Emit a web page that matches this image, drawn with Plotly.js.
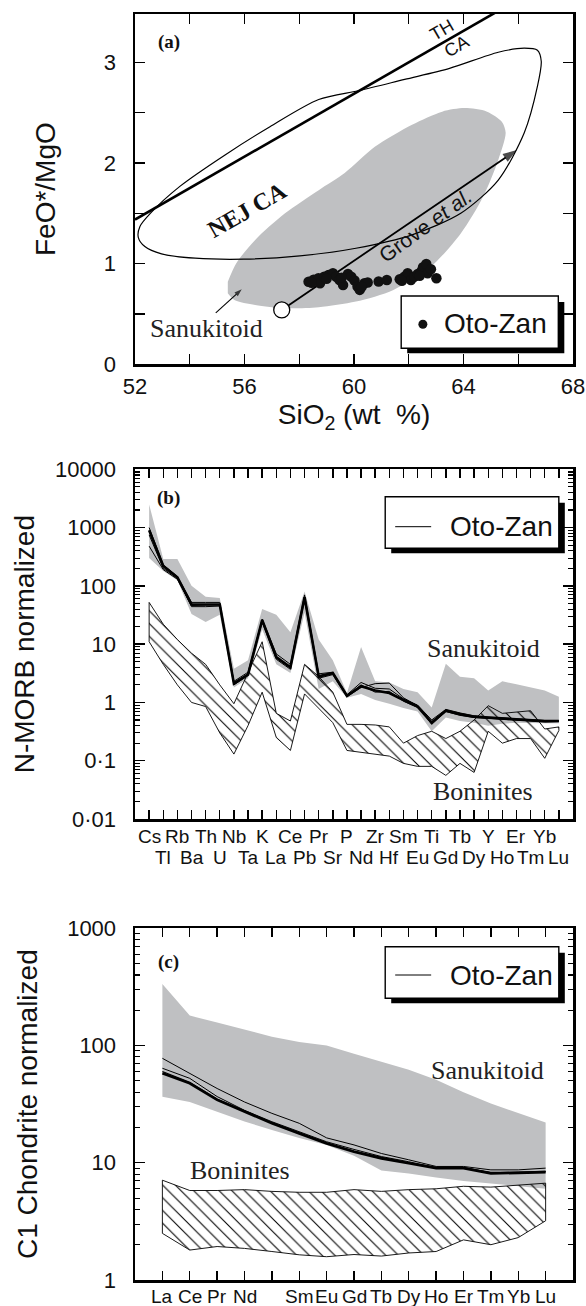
<!DOCTYPE html>
<html><head><meta charset="utf-8">
<script src="https://cdn.plot.ly/plotly-3.0.1.min.js"></script>
<style>html,body{margin:0;padding:0;background:#fff}#chart{width:586px;height:1306px}</style>
</head><body><div id="chart"></div>
<script>
// ---------- Panel (a) data ----------
const OTO_SIO2 = [58.34,58.52,58.70,58.76,58.91,59.07,59.23,59.35,59.47,59.60,59.78,59.90,60.02,60.13,60.21,60.38,60.50,60.90,61.20,61.67,61.84,61.96,62.08,62.20,62.33,62.45,62.52,62.64,62.69,62.81,63.01,58.45,59.0,59.55,60.28,61.75,62.4];
const OTO_FEMG = [0.82,0.84,0.855,0.805,0.87,0.888,0.904,0.87,0.838,0.788,0.898,0.87,0.832,0.772,0.739,0.805,0.812,0.822,0.838,0.845,0.87,0.904,0.838,0.87,0.898,0.921,0.964,0.997,0.904,0.944,0.855,0.81,0.85,0.86,0.77,0.83,0.88];
const NEJ_X = [52.12,52.36,52.97,54.2,55.98,58.02,60.07,62.12,63.9,65.27,66.22,66.7,66.84,66.7,66.22,65.27,63.49,61.85,60.21,58.71,56.93,55.29,53.65,52.56,52.18,52.12];
const NEJ_Y = [1.262,1.17,1.097,1.054,1.044,1.077,1.153,1.286,1.5,1.83,2.30,2.76,3.01,3.12,3.14,3.10,2.94,2.83,2.72,2.63,2.36,2.08,1.77,1.50,1.37,1.262];
const SAN_A_X = [55.39,55.63,56.39,57.48,58.71,60.07,61.44,62.81,63.9,64.72,65.27,65.54,65.4,64.86,64.04,63.22,62.12,60.76,59.66,58.71,57.48,56.39,55.7,55.39];
const SAN_A_Y = [0.706,0.64,0.59,0.557,0.567,0.623,0.739,0.971,1.30,1.667,2.03,2.30,2.41,2.51,2.545,2.51,2.38,2.16,1.90,1.73,1.50,1.236,1.004,0.82];
const THCA_X = [52, 65.2];
const THCA_Y = [1.4375, 3.5];
const GROVE_X = [57.36, 65.95];
const GROVE_Y = [0.54, 2.13];
const SANARROW_X = [54.95, 55.9];
const SANARROW_Y = [0.51, 0.746];
const X_A_TICKS = [52,56,60,64,68];
const X_A_MINOR = [54,58,62,66];
const Y_A_TICKS = [0,1,2,3];
const Y_A_MINOR = [0.5,1.5,2.5];

// ---------- Panel (b) data ----------
const SPIDER = ['Cs','Tl','Rb','Ba','Th','U','Nb','Ta','K','La','Ce','Pb','Pr','Sr','P','Nd','Zr','Hf','Sm','Eu','Ti','Gd','Tb','Dy','Y','Ho','Er','Tm','Yb','Lu'];
const OZ_B1 = [900,220,140,48,48,48,2.1,3.0,26,6.0,4.0,64,2.8,3.2,1.3,1.9,1.6,1.45,1.1,0.85,0.45,0.72,0.63,0.57,0.55,0.53,0.51,0.5,0.48,0.48];
const OZ_B2 = [1000,230,145,52,52,52,2.3,3.3,27,6.8,4.5,70,3.1,3.3,1.35,2.2,1.75,1.7,1.15,0.9,0.5,0.76,0.66,0.59,0.56,0.54,0.52,0.51,0.49,0.49];
const OZ_B3 = [750,200,135,44,44,45,2.0,2.9,24,5.5,3.7,58,2.6,3.0,1.25,1.8,2.1,2.15,1.2,0.88,0.42,0.7,0.6,0.55,0.53,0.51,0.5,0.48,0.46,0.47];
const OZ_B4 = [480,190,130,46,47,47,2.2,3.1,25,5.8,3.9,62,2.7,3.1,1.28,2.0,1.5,1.55,1.05,0.82,0.47,0.74,0.62,0.56,0.54,0.52,0.5,0.49,0.47,0.47];
const SAN_B_HI = [2500,290,290,100,65,62,3.8,5.3,40,32,16,80,12,5.3,1.45,8.9,2.3,2.2,1.7,1.5,0.82,4.6,2.75,2.6,1.6,2.3,2.05,1.8,1.6,1.25];
const SAN_B_LO = [300,180,125,33,24,32,1.8,2.6,18,4.5,3.2,35,1.7,2.3,1.2,1.4,1.1,0.95,0.8,0.7,0.32,0.55,0.48,0.45,0.4,0.43,0.45,0.45,0.44,0.44];
const BON_B_HI = [52,22,12,7,4.5,2.0,0.95,3.3,11,0.65,0.48,4.5,2.8,1.5,0.42,0.42,0.41,0.38,0.2,0.27,0.32,0.24,0.32,0.5,0.88,0.65,0.68,0.72,0.35,0.38];
const BON_B_LO = [11,4.5,2.0,1.0,0.85,0.3,0.13,0.4,1.5,0.25,0.15,1.4,0.8,0.45,0.15,0.14,0.13,0.12,0.09,0.08,0.08,0.056,0.09,0.063,0.32,0.2,0.24,0.24,0.11,0.33];
const Y_LOG_B_TICKS = [0.01,0.1,1,10,100,1000,10000];
const Y_LOG_B_TEXT = ['0·01','0·1','1','10','100','1000','10000'];

// ---------- Panel (c) data ----------
const REE = ['La','Ce','Pr','Nd','Pm','Sm','Eu','Gd','Tb','Dy','Ho','Er','Tm','Yb','Lu'];
const REE_SHOWN = ['La','Ce','Pr','Nd','Sm','Eu','Gd','Tb','Dy','Ho','Er','Tm','Yb','Lu'];
const OZ_C1 = [58,47.6,34.4,27.3,21.7,17.8,14.6,12.4,10.9,9.9,9.0,9.0,8.1,8.2,8.3];
const OZ_C2 = [77.8,58,43,33,26.4,21.7,16.3,14.2,12.0,10.6,9.3,9.3,8.7,8.7,9.0];
const OZ_C3 = [64,52.5,36.7,28,22.4,18.4,15.1,13,11.3,10.2,9.1,9.1,8.3,8.3,8.5];
const OZ_C4 = [60,48.5,35,27.8,22,18,14.8,12.6,11.1,10.0,9.1,9.1,8.2,8.3,8.4];
const SAN_C_HI = [335,180,157,136,119,107,100,85,72.5,62,51,40,32,26.5,22];
const SAN_C_LO = [36.6,33,27.3,22.5,19,16.3,14.2,11.5,8.6,8.1,7.5,7.0,6.6,6.3,6.0];
const BON_C_HI = [7.1,5.8,5.8,5.9,5.7,5.6,5.6,5.9,5.7,5.9,6.0,6.3,6.2,6.4,6.7];
const BON_C_LO = [2.5,1.8,1.93,1.86,1.75,1.64,1.58,1.65,1.6,1.7,1.75,2.2,2.0,2.3,3.2];
const Y_LOG_C_TICKS = [1,10,100,1000];
const Y_LOG_C_TEXT = ['1','10','100','1000'];

// ---------- helpers ----------
const SANS = 'Liberation Sans, Arial, Helvetica, sans-serif';
const SERIF = 'Liberation Serif, Times New Roman, serif';
const GREY = '#bfc0c2';
const ML = 134.5, MR = 13, MT = 14, MB = 26, W = 586, H = 1306;
const PW = W - ML - MR, PH = H - MT - MB;
const px = v => (v - ML) / PW;
const py = v => (H - MB - v) / PH;
const idxB = SPIDER.map((_, i) => i);
const idxC = REE.map((_, i) => i);
function band(xs, hi, lo) {
  return { x: xs.concat(xs.slice().reverse()), y: hi.concat(lo.slice().reverse()) };
}
function minorVals(lo, hi) {
  const v = [];
  for (let e = lo; e < hi; e++) for (let m = 2; m <= 9; m++) v.push(m * Math.pow(10, e));
  return v;
}

const traces = [];
// (a)
traces.push({x: SAN_A_X, y: SAN_A_Y, xaxis:'x', yaxis:'y', mode:'lines', fill:'toself', fillcolor: GREY,
  line:{color: GREY, width:0, shape:'spline', smoothing:0.8}, hoverinfo:'skip'});
traces.push({x: NEJ_X, y: NEJ_Y, xaxis:'x', yaxis:'y', mode:'lines',
  line:{color:'#000', width:1.2, shape:'spline', smoothing:0.8}});
traces.push({x: THCA_X, y: THCA_Y, xaxis:'x', yaxis:'y', mode:'lines', line:{color:'#000', width:2.6}});
traces.push({x: GROVE_X, y: GROVE_Y, xaxis:'x', yaxis:'y', mode:'lines+markers', line:{color:'#000', width:1.8},
  marker:{symbol:'arrow', angleref:'previous', size:[0,15], color:'#000', line:{width:0}}});
traces.push({x: SANARROW_X, y: SANARROW_Y, xaxis:'x', yaxis:'y', mode:'lines+markers', line:{color:'#000', width:1.1},
  marker:{symbol:'arrow', angleref:'previous', size:[0,8], color:'#000', line:{width:0}}});
traces.push({x: OTO_SIO2, y: OTO_FEMG, xaxis:'x', yaxis:'y', mode:'markers', name:'Oto-Zan',
  marker:{color:'#111', size:10.5}});
traces.push({x: [GROVE_X[0]], y: [GROVE_Y[0]], xaxis:'x', yaxis:'y', mode:'markers',
  marker:{color:'#fff', size:16, line:{color:'#000', width:1.3}}});

// (b)
const sb = band(idxB, SAN_B_HI, SAN_B_LO);
traces.push({x: sb.x, y: sb.y, xaxis:'x2', yaxis:'y2', mode:'lines', fill:'toself', fillcolor: GREY, line:{width:0, color:GREY}});
const bb = band(idxB, BON_B_HI, BON_B_LO);
traces.push({x: bb.x.concat([bb.x[0]]), y: bb.y.concat([bb.y[0]]), xaxis:'x2', yaxis:'y2', mode:'lines', fill:'toself',
  fillcolor:'rgba(0,0,0,0)', fillpattern:{shape:'\\', fgcolor:'#000', bgcolor:'rgba(255,255,255,0)', size:9, solidity:0.12},
  line:{color:'#000', width:0.9}});
[[OZ_B2,1],[OZ_B3,1],[OZ_B4,1],[OZ_B1,2.6]].forEach(([arr,w]) => {
  traces.push({x: idxB, y: arr, xaxis:'x2', yaxis:'y2', mode:'lines', line:{color:'#000', width:w}});
});

// (c)
const sc = band(idxC, SAN_C_HI, SAN_C_LO);
traces.push({x: sc.x, y: sc.y, xaxis:'x3', yaxis:'y3', mode:'lines', fill:'toself', fillcolor: GREY, line:{width:0, color:GREY}});
const bc = band(idxC, BON_C_HI, BON_C_LO);
traces.push({x: bc.x.concat([bc.x[0]]), y: bc.y.concat([bc.y[0]]), xaxis:'x3', yaxis:'y3', mode:'lines', fill:'toself',
  fillcolor:'rgba(0,0,0,0)', fillpattern:{shape:'\\', fgcolor:'#000', bgcolor:'rgba(255,255,255,0)', size:9, solidity:0.12},
  line:{color:'#000', width:0.9}});
[[OZ_C2,1],[OZ_C3,1],[OZ_C4,1.2],[OZ_C1,2.6]].forEach(([arr,w]) => {
  traces.push({x: idxC, y: arr, xaxis:'x3', yaxis:'y3', mode:'lines', line:{color:'#000', width:w}});
});

const baseAxis = {showline:true, linecolor:'#000', linewidth:2.5, mirror:'allticks', ticks:'inside', ticklen:10,
  tickwidth:1.4, tickcolor:'#000', showgrid:false, zeroline:false, automargin:false,
  tickfont:{family:SANS, size:22, color:'#111'}};
const minorOf = (vals, len) => ({tickmode:'array', tickvals:vals, ticks:'inside', ticklen:len, tickwidth:len > 6 ? 1.4 : 1.1, tickcolor:'#000', showgrid:false});

const layout = {
  width: W, height: H, margin:{l:ML, r:MR, t:MT, b:MB}, showlegend:false,
  paper_bgcolor:'#fff', plot_bgcolor:'#fff',
  xaxis: Object.assign({}, baseAxis, {domain:[0,1], range:[52,68], anchor:'y', tickmode:'array',
    tickvals:X_A_TICKS, ticklabelstandoff:1, tickangle:0, minor:minorOf(X_A_MINOR, 10),
    title:{text:'SiO<sub>2</sub> (wt  %)', font:{family:SANS, size:28, color:'#111'}, standoff:6}}),
  yaxis: Object.assign({}, baseAxis, {domain:[py(364.3), 1], range:[0,3.48], anchor:'x', tickmode:'array',
    tickvals:Y_A_TICKS, ticklabelstandoff:12, minor:minorOf(Y_A_MINOR, 10),
    title:{text:'FeO*/MgO', font:{family:SANS, size:28, color:'#111'}, standoff:40}}),
  xaxis2: Object.assign({}, baseAxis, {domain:[0,1], range:[-1,30], anchor:'y2', tickmode:'array',
    tickvals:idxB, showticklabels:false, ticklen:9}),
  yaxis2: Object.assign({}, baseAxis, {domain:[py(819), py(469.3)], type:'log', range:[-2,4], anchor:'x2',
    tickmode:'array', tickvals:Y_LOG_B_TICKS, ticktext:Y_LOG_B_TEXT, ticklabelstandoff:12, minor:minorOf(minorVals(-2,4), 5),
    title:{text:'N-MORB normalized', font:{family:SANS, size:28, color:'#111'}, standoff:12}}),
  xaxis3: Object.assign({}, baseAxis, {domain:[0,1], range:[-1,15], anchor:'y3', tickmode:'array',
    tickvals:idxC, showticklabels:false, ticklen:9}),
  yaxis3: Object.assign({}, baseAxis, {domain:[0, py(928.3)], type:'log', range:[0,3], anchor:'x3',
    tickmode:'array', tickvals:Y_LOG_C_TICKS, ticktext:Y_LOG_C_TEXT, ticklabelstandoff:12, minor:minorOf(minorVals(0,3), 5),
    title:{text:'C1 Chondrite normalized', font:{family:SANS, size:28, color:'#111'}, standoff:22}}),
  shapes: [], annotations: []
};

function legendBox(x0, y0, x1, y1) {
  layout.shapes.push({type:'rect', xref:'paper', yref:'paper', x0:px(x0+6), x1:px(x1+6), y0:py(y0+6), y1:py(y1+5),
    fillcolor:'#000', line:{width:0}});
  layout.shapes.push({type:'rect', xref:'paper', yref:'paper', x0:px(x0), x1:px(x1), y0:py(y0), y1:py(y1),
    fillcolor:'#fff', line:{color:'#000', width:1.4}});
}
legendBox(401, 296, 558.3, 348.3);
layout.shapes.push({type:'circle', xref:'paper', yref:'paper', x0:px(418.2), x1:px(427.2), y0:py(319.8), y1:py(328.8),
  fillcolor:'#111', line:{width:0}});
legendBox(385, 496.7, 558.8, 548.3);
layout.shapes.push({type:'line', xref:'paper', yref:'paper', x0:px(395), x1:px(431), y0:py(526.7), y1:py(526.7), line:{color:'#000', width:1}});
legendBox(385, 946.7, 558.8, 998.3);
layout.shapes.push({type:'line', xref:'paper', yref:'paper', x0:px(395), x1:px(431), y0:py(975), y1:py(975), line:{color:'#000', width:1}});

function txt(text, x, y, font, extra) {
  layout.annotations.push(Object.assign({text:text, x:px(x), y:py(y), xref:'paper', yref:'paper', showarrow:false,
    xanchor:'center', yanchor:'middle', font:font}, extra || {}));
}
const legFont = {family:SANS, size:28, color:'#111'};
txt('Oto-Zan', 495.5, 323, legFont);
txt('Oto-Zan', 501.5, 526, legFont);
txt('Oto-Zan', 501.5, 975, legFont);
const tagFont = {family:SERIF, size:19, color:'#111'};
txt('<b>(a)</b>', 168.3, 41.7, tagFont);
txt('<b>(b)</b>', 168.3, 498.3, tagFont);
txt('<b>(c)</b>', 168.5, 961.7, tagFont);
const labFont = {family:SERIF, size:26, color:'#222'};
txt('Sanukitoid', 483, 648, labFont);
txt('Boninites', 483, 791.7, labFont);
txt('Sanukitoid', 487, 1070, labFont);
txt('Boninites', 239.7, 1170, labFont);

// panel (a) in-plot labels (data coordinates)
layout.annotations.push({text:'Sanukitoid', x:54.6, y:0.36, xref:'x', yref:'y', showarrow:false, font:labFont});
layout.annotations.push({text:'<b>NEJ CA</b>', x:56.1, y:1.53, xref:'x', yref:'y', showarrow:false, textangle:-30,
  font:{family:SERIF, size:24, color:'#111'}});
layout.annotations.push({text:'Grove <i>et al.</i>', x:62.6, y:1.38, xref:'x', yref:'y', showarrow:false, textangle:-36,
  font:{family:SANS, size:21, color:'#111'}});
layout.annotations.push({text:'TH', x:63.21, y:3.32, xref:'x', yref:'y', showarrow:false, textangle:-30,
  font:{family:SANS, size:18, color:'#111'}});
layout.annotations.push({text:'CA', x:63.76, y:3.16, xref:'x', yref:'y', showarrow:false, textangle:-30,
  font:{family:SANS, size:18, color:'#111'}});

// panel (b) category labels, two staggered rows
const catFont = {family:SANS, size:19, color:'#111'};
SPIDER.forEach((c, i) => {
  layout.annotations.push({text:c, x:i, y:0, xref:'x2', yref:'y2 domain', yanchor:'top', xanchor:'center',
    showarrow:false, yshift: (i % 2 === 0) ? -5 : -26, font:catFont});
});
// panel (c) REE labels (Pm position left unlabelled, as in the figure)
REE.forEach((c, i) => {
  if (REE_SHOWN.indexOf(c) < 0) return;
  layout.annotations.push({text:c, x:i, y:0, xref:'x3', yref:'y3 domain', yanchor:'top', xanchor:'center',
    showarrow:false, yshift:-4, font:catFont});
});

Plotly.newPlot('chart', traces, layout, {staticPlot:true, displayModeBar:false});
</script></body></html>
